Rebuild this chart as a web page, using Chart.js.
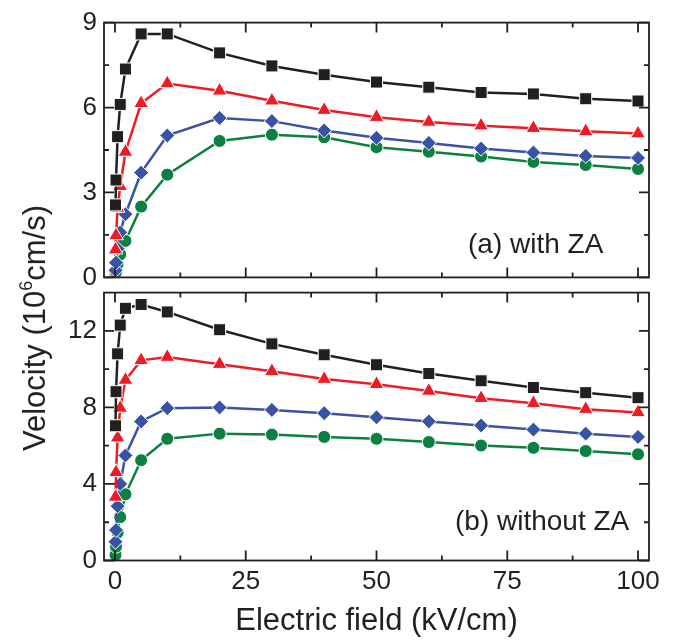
<!DOCTYPE html>
<html>
<head>
<meta charset="utf-8">
<script src="https://cdn.jsdelivr.net/npm/chart.js@4.4.1/dist/chart.umd.min.js"></script>
<style>
  html, body { margin: 0; padding: 0; background: #fff; }
  #page { position: relative; width: 679px; height: 644px; overflow: hidden; }
  .panel { position: absolute; left: 0; width: 679px; }
  #top { top: 0; height: 300px; }
  #bottom { top: 270px; height: 374px; }
  #ytitle {
    position: absolute; left: 35px; top: 328px;
    transform: translate(-50%, -50%) rotate(-90deg);
    white-space: nowrap; color: #231f20;
    font: 31px 'Liberation Sans', Arial, sans-serif;
  }
  #ytitle sup { font-size: 18px; position: relative; top: -2px; }
</style>
</head>
<body>
<div id="page">
  <div class="panel" id="top"><canvas id="withZA"></canvas></div>
  <div class="panel" id="bottom"><canvas id="withoutZA"></canvas></div>
  <div id="ytitle">Velocity (10<sup>6</sup>cm/s)</div>
</div>
<script>
// electric field values (kV/cm)
const field = [0.1, 0.2, 0.5, 1, 2, 5, 10, 20, 30, 40, 50, 60, 70, 80, 90, 100];

// (a) with ZA, velocity in 10^6 cm/s
const withBlack = [2.56, 3.44, 4.97, 6.11, 7.36, 8.6, 8.6, 7.93, 7.47, 7.16, 6.9, 6.72, 6.53, 6.48, 6.31, 6.23];
const withRed   = [0.98, 1.48, 2.45, 3.22, 4.43, 6.15, 6.85, 6.59, 6.24, 5.91, 5.66, 5.49, 5.36, 5.27, 5.16, 5.08];
const withBlue  = [0.25, 0.52, 1.01, 1.59, 2.23, 3.7, 5.01, 5.63, 5.52, 5.19, 4.93, 4.75, 4.55, 4.41, 4.29, 4.22];
const withGreen = [0.1, 0.19, 0.48, 0.81, 1.29, 2.5, 3.63, 4.82, 5.04, 4.95, 4.6, 4.44, 4.27, 4.08, 3.97, 3.83];

// (b) without ZA
const woBlack = [7.04, 8.82, 10.8, 12.3, 13.18, 13.38, 12.99, 12.06, 11.32, 10.75, 10.23, 9.77, 9.39, 9.04, 8.77, 8.51];
const woRed   = [3.32, 4.61, 6.42, 7.97, 9.43, 10.46, 10.63, 10.26, 9.89, 9.48, 9.21, 8.86, 8.48, 8.22, 7.91, 7.74];
const woBlue  = [0.98, 1.59, 2.84, 4.0, 5.49, 7.27, 7.96, 8.0, 7.87, 7.7, 7.48, 7.27, 7.06, 6.84, 6.63, 6.46];
const woGreen = [0.29, 0.72, 1.46, 2.27, 3.46, 5.24, 6.36, 6.63, 6.58, 6.46, 6.36, 6.19, 6.01, 5.89, 5.72, 5.55];

// tick labels
const xTicks = [0, 25, 50, 75, 100];
const topYTicks = [0, 3, 6, 9];
const bottomYTicks = [0, 4, 8, 12];

const INK = '#231f20';
const FONT = "'Liberation Sans', Arial, sans-serif";

const looks = [
    { color: INK, style: 'rect', r: 8.5 },
    { color: '#ed1c24', style: 'triangle', r: 8.5 },
    { color: '#3953a4', style: 'rectRot', r: 7.5 },
    { color: '#0c8040', style: 'circle', r: 6.5 }
];

function makeSets(series) {
    return series.map((vals, i) => ({
        label: 'series ' + (i + 1),
        data: vals.map((v, j) => ({ x: field[j], y: v })),
        borderColor: looks[i].color,
        backgroundColor: looks[i].color,
        borderWidth: 2.5,
        pointStyle: looks[i].style,
        pointRadius: looks[i].r,
        pointBorderColor: '#fff',
        pointBorderWidth: 1,
        tension: 0
    }));
}

function minors(ticks, max) {
    const out = [];
    for (let i = 0; i < ticks.length - 1; i++) out.push((ticks[i] + ticks[i + 1]) / 2);
    const step = ticks[1] - ticks[0];
    const extra = ticks[ticks.length - 1] + step / 2;
    if (extra < max) out.push(extra);
    return out;
}

// box frame with inward ticks on all four sides, plus the panel caption
const frameTicks = {
    id: 'frameTicks',
    afterDatasetsDraw(chart, args, opts) {
        const { ctx, chartArea: a, scales: { x, y } } = chart;
        ctx.save();
        ctx.strokeStyle = INK;
        ctx.lineWidth = 1.8;
        ctx.beginPath();
        const tick = (px, len, vertical) => {
            if (vertical) {
                ctx.moveTo(px, a.bottom); ctx.lineTo(px, a.bottom - len);
                ctx.moveTo(px, a.top); ctx.lineTo(px, a.top + len);
            } else {
                ctx.moveTo(a.left, px); ctx.lineTo(a.left + len, px);
                ctx.moveTo(a.right, px); ctx.lineTo(a.right - len, px);
            }
        };
        xTicks.forEach(v => tick(x.getPixelForValue(v), 10, true));
        minors(xTicks, x.max).forEach(v => tick(x.getPixelForValue(v), 5, true));
        opts.yTicks.forEach(v => tick(y.getPixelForValue(v), 10, false));
        minors(opts.yTicks, y.max).forEach(v => tick(y.getPixelForValue(v), 5, false));
        ctx.stroke();
        ctx.strokeRect(a.left, a.top, a.right - a.left, a.bottom - a.top);

        ctx.fillStyle = INK;
        ctx.font = '28px ' + FONT;
        ctx.textBaseline = 'alphabetic';
        ctx.fillText(opts.caption, opts.cx, opts.cy);
        ctx.restore();
    }
};

function buildChart(id, series, yMax, yTicks, showX, pad, caption, cx, cy) {
    const xScale = {
        type: 'linear', min: -2.1, max: 102.1,
        display: showX,
        afterBuildTicks: s => { s.ticks = xTicks.map(v => ({ value: v })); },
        afterFit: s => { if (showX) s.height = 83.5; },
        grid: { display: false, drawTicks: false },
        border: { display: false },
        ticks: { padding: 6, color: INK, font: { family: FONT, size: 26 } },
        title: {
            display: true, text: 'Electric field (kV/cm)', color: INK,
            font: { family: FONT, size: 31 }, padding: { top: 0, bottom: 4 }
        }
    };
    return new Chart(document.getElementById(id), {
        type: 'line',
        data: { datasets: makeSets(series) },
        options: {
            responsive: true,
            maintainAspectRatio: false,
            animation: false,
            layout: { padding: pad },
            plugins: {
                legend: { display: false },
                tooltip: { enabled: false },
                frameTicks: { yTicks: yTicks, caption: caption, cx: cx, cy: cy }
            },
            scales: {
                x: xScale,
                y: {
                    min: 0, max: yMax,
                    afterBuildTicks: s => { s.ticks = yTicks.map(v => ({ value: v })); },
                    afterFit: s => { s.width = 104; },
                    grid: { display: false, drawTicks: false },
                    border: { display: false },
                    ticks: { padding: 7, color: INK, font: { family: FONT, size: 26 } }
                }
            }
        },
        plugins: [frameTicks]
    });
}

buildChart('withZA', [withBlack, withRed, withBlue, withGreen], 9, topYTicks, false,
    { top: 16, right: 30, bottom: 11, left: 0 }, '(a) with ZA', 468, 253);
buildChart('withoutZA', [woBlack, woRed, woBlue, woGreen], 14, bottomYTicks, true,
    { top: 19, right: 30, bottom: 0, left: 0 }, '(b) without ZA', 455, 260);
</script>
</body>
</html>
